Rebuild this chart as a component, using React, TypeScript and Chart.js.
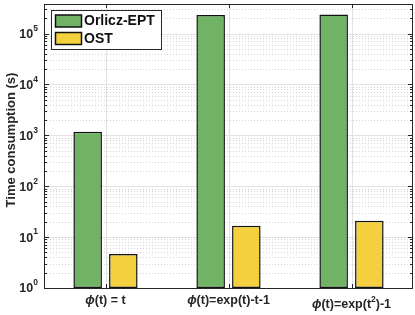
import React, { useEffect, useRef } from 'react';
import { Chart, registerables } from 'chart.js';

Chart.register(...registerables);

// ---- data ----
const categories = ['ϕ(t) = t', 'ϕ(t)=exp(t)-t-1', 'ϕ(t)=exp(t²)-1'];
const seriesNames = ['Orlicz-EPT', 'OST'];
const orliczEptValues = [1170, 230000, 235000];
const ostValues = [4.65, 16.7, 20.9];
const yTickExponents = [0, 1, 2, 3, 4, 5];
const yTitle = 'Time consumption (s)';
const yMin = 1;
const yMax = 380000;

const GREEN = '#71B365';
const YELLOW = '#F4D03F';
const AXIS = '#262626';
const FONT = '"Liberation Sans", "DejaVu Sans", Arial, sans-serif';

type Seg = { t: string; italic?: boolean; sup?: boolean };

function parseLabel(s: string): Seg[] {
  const segs: Seg[] = [];
  let buf = '';
  for (const ch of s) {
    if (ch === 'ϕ' || ch === '²') {
      if (buf) segs.push({ t: buf });
      buf = '';
      if (ch === 'ϕ') segs.push({ t: 'ϕ', italic: true });
      else segs.push({ t: '2', sup: true });
    } else buf += ch;
  }
  if (buf) segs.push({ t: buf });
  return segs;
}

const matlabPlugin = {
  id: 'matlabLook',
  beforeDatasetsDraw(chart: any) {
    const { ctx, chartArea: a, scales } = chart;
    const y = scales.y;
    const x = scales.x;
    ctx.save();
    ctx.lineWidth = 1;
    // minor dotted grid
    ctx.strokeStyle = '#d4d4d4';
    ctx.setLineDash([1, 2]);
    for (const e of yTickExponents) {
      for (let m = 2; m <= 9; m++) {
        const v = m * Math.pow(10, e);
        if (v > yMax) break;
        const py = Math.round(y.getPixelForValue(v)) + 0.5;
        ctx.beginPath();
        ctx.moveTo(a.left, py);
        ctx.lineTo(a.right, py);
        ctx.stroke();
      }
    }
    ctx.setLineDash([]);
    ctx.strokeStyle = '#e2e2e2';
    for (const e of yTickExponents) {
      const py = Math.round(y.getPixelForValue(Math.pow(10, e))) + 0.5;
      ctx.beginPath();
      ctx.moveTo(a.left, py);
      ctx.lineTo(a.right, py);
      ctx.stroke();
    }
    categories.forEach((_, i) => {
      const px = Math.round(x.getPixelForValue(i)) + 0.5;
      ctx.beginPath();
      ctx.moveTo(px, a.top);
      ctx.lineTo(px, a.bottom);
      ctx.stroke();
    });
    ctx.restore();
  },
  afterDatasetsDraw(chart: any) {
    const { ctx, chartArea: a, scales } = chart;
    const y = scales.y;
    const x = scales.x;
    ctx.save();
    // axes box
    ctx.strokeStyle = AXIS;
    ctx.lineWidth = 1;
    ctx.strokeRect(Math.round(a.left) + 0.5, Math.round(a.top) + 0.5, Math.round(a.right - a.left) - 1, Math.round(a.bottom - a.top));
    // y ticks
    ctx.beginPath();
    for (const e of yTickExponents) {
      for (let m = 1; m <= 9; m++) {
        const v = m * Math.pow(10, e);
        if (v > yMax) break;
        const py = Math.round(y.getPixelForValue(v)) + 0.5;
        const len = m === 1 ? 5 : 3;
        ctx.moveTo(a.left, py);
        ctx.lineTo(a.left + len, py);
        ctx.moveTo(a.right, py);
        ctx.lineTo(a.right - len, py);
      }
    }
    // x ticks
    categories.forEach((_, i) => {
      const px = Math.round(x.getPixelForValue(i)) + 0.5;
      ctx.moveTo(px, a.bottom);
      ctx.lineTo(px, a.bottom - 4);
      ctx.moveTo(px, a.top);
      ctx.lineTo(px, a.top + 4);
    });
    ctx.stroke();

    // y tick labels
    ctx.fillStyle = '#262626';
    for (const e of yTickExponents) {
      const py = y.getPixelForValue(Math.pow(10, e));
      ctx.font = `bold 8.5px ${FONT}`;
      const expS = String(e);
      const ew = ctx.measureText(expS).width;
      const right = 38;
      ctx.textAlign = 'left';
      ctx.textBaseline = 'middle';
      ctx.fillText(expS, right - ew, py - 5);
      ctx.font = `bold 12.5px ${FONT}`;
      ctx.textAlign = 'right';
      ctx.fillText('10', right - ew, py + 1);
    }

    // x labels
    ctx.textBaseline = 'middle';
    categories.forEach((lab, i) => {
      const segs = parseLabel(lab);
      const hasSup = segs.some((s) => s.sup);
      const fontFor = (s: Seg) =>
        s.sup ? `bold 8.5px ${FONT}` : s.italic ? `italic bold 12.5px ${FONT}` : `bold 12.5px ${FONT}`;
      let total = 0;
      const widths = segs.map((s) => {
        ctx.font = fontFor(s);
        const w = ctx.measureText(s.t).width;
        total += w;
        return w;
      });
      const cx = x.getPixelForValue(i);
      const cy = a.bottom + (hasSup ? 17 : 13);
      let px = cx - total / 2;
      ctx.textAlign = 'left';
      segs.forEach((s, k) => {
        ctx.font = fontFor(s);
        ctx.fillText(s.t, px, s.sup ? cy - 5 : cy);
        px += widths[k];
      });
    });

    // y title
    ctx.save();
    ctx.translate(11, 140);
    ctx.rotate(-Math.PI / 2);
    ctx.font = `bold 13px ${FONT}`;
    ctx.textAlign = 'center';
    ctx.textBaseline = 'middle';
    ctx.fillText(yTitle, 0, 0);
    ctx.restore();

    // legend
    const lx = 51.5, ly = 10.5, lw = 110, lh = 39;
    ctx.fillStyle = '#ffffff';
    ctx.fillRect(lx, ly, lw, lh);
    ctx.strokeStyle = AXIS;
    ctx.lineWidth = 1;
    ctx.strokeRect(lx, ly, lw, lh);
    chart.data.datasets.forEach((ds: any, i: number) => {
      const sy = 15 + i * 17.5;
      ctx.fillStyle = ds.backgroundColor;
      ctx.fillRect(55.5, sy, 26, 12);
      ctx.strokeStyle = '#111111';
      ctx.lineWidth = 1.5;
      ctx.strokeRect(55.5, sy, 26, 12);
      ctx.fillStyle = '#111111';
      ctx.font = `bold 14px ${FONT}`;
      ctx.textAlign = 'left';
      ctx.textBaseline = 'middle';
      ctx.fillText(ds.label, 84, sy + 6.5);
    });
    ctx.restore();
  },
};

export default function App() {
  const ref = useRef<HTMLCanvasElement | null>(null);
  useEffect(() => {
    if (!ref.current) return;
    const chart = new Chart(ref.current, {
      type: 'bar',
      data: {
        labels: categories,
        datasets: [
          {
            label: seriesNames[0],
            data: orliczEptValues,
            backgroundColor: GREEN,
            borderColor: '#111111',
            borderWidth: 1.5,
            borderSkipped: false,
            categoryPercentage: 0.58,
            barPercentage: 0.8,
          },
          {
            label: seriesNames[1],
            data: ostValues,
            backgroundColor: YELLOW,
            borderColor: '#111111',
            borderWidth: 1.5,
            borderSkipped: false,
            categoryPercentage: 0.58,
            barPercentage: 0.8,
          },
        ],
      },
      options: {
        animation: false,
        responsive: false,
        devicePixelRatio: 1,
        layout: { padding: { left: 44, right: 2, top: 4, bottom: 27 } },
        plugins: { legend: { display: false }, tooltip: { enabled: false } },
        scales: {
          x: { display: false, offset: true },
          y: { type: 'logarithmic', display: false, min: yMin, max: yMax },
        },
      },
      plugins: [matlabPlugin],
    } as any);
    return () => chart.destroy();
  }, []);
  return (
    <div style={{ position: 'fixed', left: 0, top: 0, width: 415, height: 315, background: '#fff' }}>
      <canvas ref={ref} width={415} height={315} style={{ display: 'block' }} />
    </div>
  );
}
